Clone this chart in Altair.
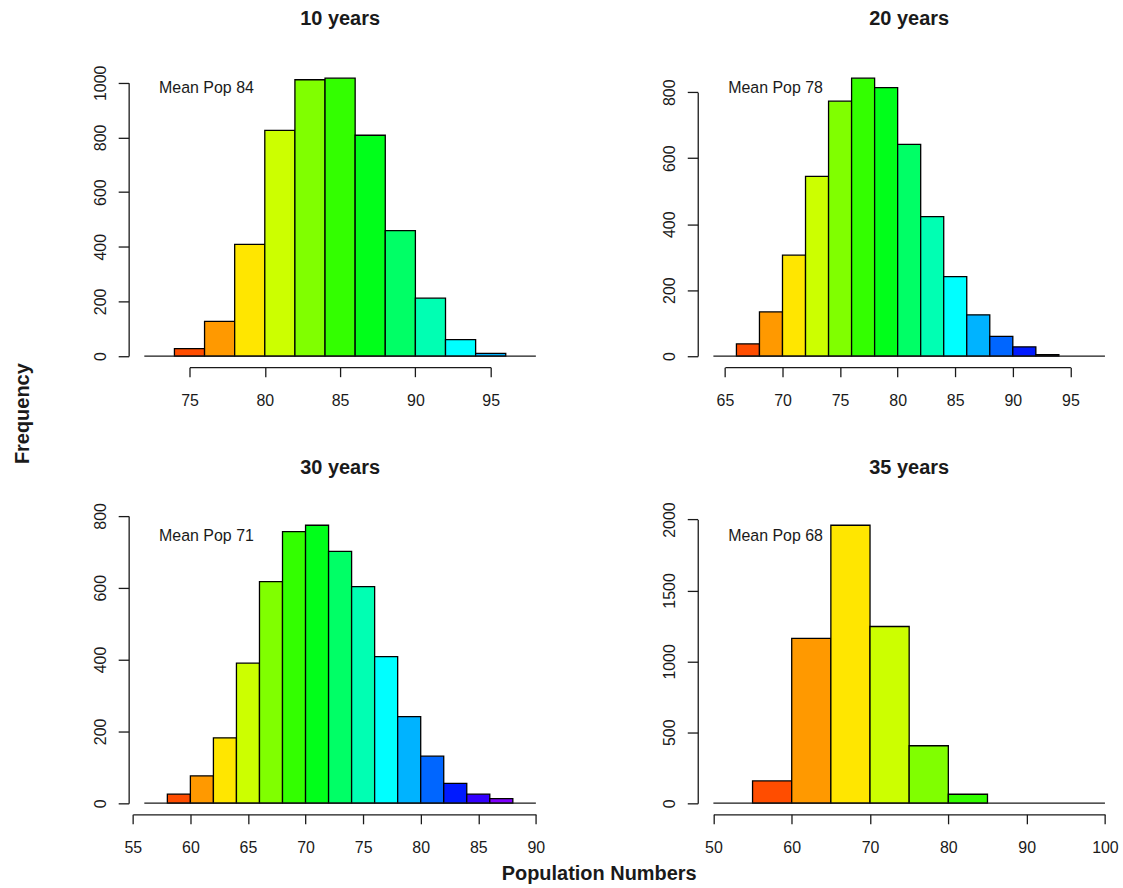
import altair as alt
import pandas as pd

# ---------------- data ----------------
TITLES = ["10 years", "20 years", "30 years", "35 years"]
MEAN_POP = [84, 78, 71, 68]

BREAKS_10 = [74, 76, 78, 80, 82, 84, 86, 88, 90, 92, 94, 96]
COUNTS_10 = [27, 127, 409, 826, 1011, 1017, 808, 459, 212, 60, 10]

BREAKS_20 = [66, 68, 70, 72, 74, 76, 78, 80, 82, 84, 86, 88, 90, 92, 94]
COUNTS_20 = [37, 134, 306, 545, 773, 843, 814, 642, 423, 241, 125, 60, 28, 4]

BREAKS_30 = [58, 60, 62, 64, 66, 68, 70, 72, 74, 76, 78, 80, 82, 84, 86, 88]
COUNTS_30 = [25, 76, 182, 390, 617, 756, 774, 701, 603, 408, 241, 131, 55, 25, 13]

BREAKS_35 = [55, 60, 65, 70, 75, 80, 85]
COUNTS_35 = [157, 1162, 1960, 1246, 405, 63]

XLIMS = [[72, 98], [64, 98], [56, 90], [50, 100]]
X_TICKS = [
    [75, 80, 85, 90, 95],
    [65, 70, 75, 80, 85, 90, 95],
    [55, 60, 65, 70, 75, 80, 85, 90],
    [50, 60, 70, 80, 90, 100],
]
Y_TICKS = [
    [0, 200, 400, 600, 800, 1000],
    [0, 200, 400, 600, 800],
    [0, 200, 400, 600, 800],
    [0, 500, 1000, 1500, 2000],
]
X_LABEL = "Population Numbers"
Y_LABEL = "Frequency"

# ---------------- styling ----------------
PALETTE = ["#FF4D00", "#FF9900", "#FFE600", "#CCFF00", "#80FF00", "#33FF00",
           "#00FF1A", "#00FF66", "#00FFB3", "#00FFFF", "#00B3FF", "#0066FF",
           "#001AFF", "#3300FF", "#8000FF"]
FONT = "Liberation Sans"
INK = "#1a1a1a"
W, H = 424, 301
EXP = 0.04  # R's 4% axis expansion
TITLE_OFFSETS = [20.4, 22.4, 8.4, 7.6]


def panel(i, breaks, counts):
    df = pd.DataFrame({
        "lo": breaks[:-1],
        "hi": breaks[1:],
        "n": counts,
        "k": list(range(len(counts))),
    })
    a, b = XLIMS[i]
    span = b - a
    ymax = max(counts)

    def xpx(v):
        return (v - (a - EXP * span)) / ((1 + 2 * EXP) * span) * W

    def ypx(v):
        return H - (v + EXP * ymax) / ((1 + 2 * EXP) * ymax) * H

    xt, yt = X_TICKS[i], Y_TICKS[i]
    xs = alt.Scale(domain=[xt[0], xt[-1]], range=[xpx(xt[0]), xpx(xt[-1])],
                   nice=False, zero=False)
    ys = alt.Scale(domain=[yt[0], yt[-1]], range=[ypx(yt[0]), ypx(yt[-1])],
                   nice=False, zero=False)

    xaxis = alt.Axis(values=xt, title="", grid=False, tickSize=9.5, tickWidth=1.3,
                     domainWidth=1.3, domainColor=INK, tickColor=INK, format="d",
                     labelFont=FONT, labelFontSize=16, labelColor=INK,
                     labelPadding=16, labelFlush=False, labelOverlap=False)
    yaxis = alt.Axis(values=yt, title="", grid=False, tickSize=10.5, tickWidth=1.3,
                     domainWidth=1.3, domainColor=INK, tickColor=INK, format="d",
                     labelFont=FONT, labelFontSize=16, labelColor=INK,
                     labelAngle=270, labelAlign="center", labelBaseline="alphabetic",
                     labelPadding=12.5, labelFlush=False, labelOverlap=False)

    bars = alt.Chart(df).mark_rect(stroke="black", strokeWidth=1.3).encode(
        x=alt.X("lo:Q", scale=xs, axis=xaxis),
        x2="hi:Q",
        y=alt.Y("n:Q", scale=ys, axis=yaxis),
        y2=alt.datum(0),
        color=alt.Color("k:O", scale=alt.Scale(domain=list(range(len(PALETTE))),
                                               range=PALETTE), legend=None),
    )

    base_df = pd.DataFrame({"a": [a], "b": [b], "z": [0]})
    baseline = alt.Chart(base_df).mark_rule(color=INK, strokeWidth=1.3).encode(
        x=alt.X("a:Q", scale=xs),
        x2="b:Q",
        y=alt.Y("z:Q", scale=ys),
    )

    lab_df = pd.DataFrame({"label": [f"Mean Pop {MEAN_POP[i]}"]})
    label = alt.Chart(lab_df).mark_text(
        align="left", baseline="alphabetic", font=FONT, fontSize=16, color=INK
    ).encode(x=alt.value(30.5), y=alt.value(26.5), text="label:N")

    layers = [bars, baseline, label]

    if i == 0:
        ydf = pd.DataFrame({"t": [Y_LABEL]})
        layers.append(alt.Chart(ydf).mark_text(
            align="center", baseline="alphabetic", angle=270, font=FONT,
            fontSize=20, fontWeight="bold", color=INK
        ).encode(x=alt.value(-99.7), y=alt.value(347.6), text="t:N"))
    if i == 2:
        xdf = pd.DataFrame({"t": [X_LABEL]})
        layers.append(alt.Chart(xdf).mark_text(
            align="center", baseline="alphabetic", font=FONT,
            fontSize=20, fontWeight="bold", color=INK
        ).encode(x=alt.value(471.8), y=alt.value(366.5), text="t:N"))

    return alt.layer(*layers).properties(
        width=W, height=H,
        title=alt.TitleParams(TITLES[i], font=FONT, fontSize=20, fontWeight="bold",
                              color=INK, anchor="middle", baseline="alphabetic",
                              offset=TITLE_OFFSETS[i]),
    )


p1 = panel(0, BREAKS_10, COUNTS_10)
p2 = panel(1, BREAKS_20, COUNTS_20)
p3 = panel(2, BREAKS_30, COUNTS_30)
p4 = panel(3, BREAKS_35, COUNTS_35)

chart = alt.concat(
    p1, p2, p3, p4, columns=2,
    spacing={"row": 147.3, "column": 146.6},
    bounds="flush",
).properties(
    padding={"left": 12, "top": 7, "right": 1, "bottom": 3},
    background="white",
).configure_view(stroke="transparent")

chart.save("out.html", embed_options={"renderer": "svg", "actions": False})
